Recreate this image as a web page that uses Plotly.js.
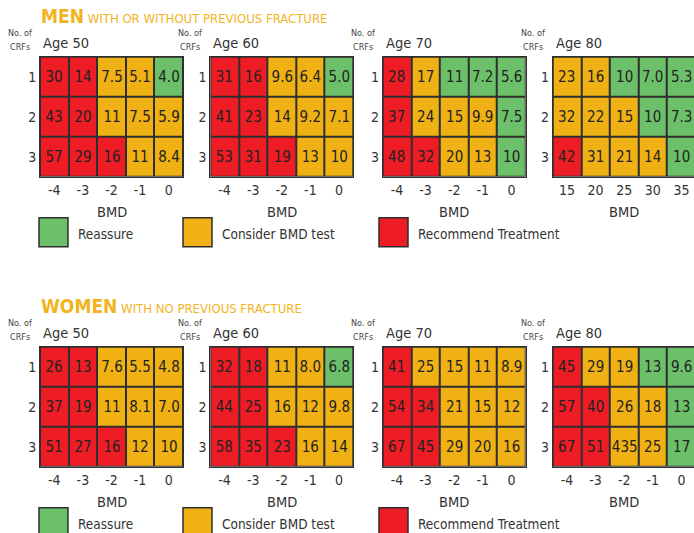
<!DOCTYPE html>
<html><head><meta charset="utf-8">
<script src="https://cdn.plot.ly/plotly-3.0.1.min.js"></script>
<style>html,body{margin:0;padding:0;overflow:hidden;background:#fff}#c{width:697px;height:533px}</style>
</head><body><div id="c"></div>
<script>
// ---- data ----
const crfRows = ["1", "2", "3"];
const bmdX = ["-4", "-3", "-2", "-1", "0"];
const bmdXMen80 = ["15", "20", "25", "30", "35"];
const ages = ["Age 50", "Age 60", "Age 70", "Age 80"];
const groupTitles = [["MEN", "WITH OR WITHOUT PREVIOUS FRACTURE"], ["WOMEN", "WITH NO PREVIOUS FRACTURE"]];
const legendLabels = ["Reassure", "Consider BMD test", "Recommend Treatment"];
// category: 0 = Reassure (green), 1 = Consider BMD test (orange), 2 = Recommend Treatment (red)
const men50 = [[30, 14, 7.5, 5.1, 4.0], [43, 20, 11, 7.5, 5.9], [57, 29, 16, 11, 8.4]];
const men50Cat = [[2, 2, 1, 1, 0], [2, 2, 1, 1, 1], [2, 2, 2, 1, 1]];
const men60 = [[31, 16, 9.6, 6.4, 5.0], [41, 23, 14, 9.2, 7.1], [53, 31, 19, 13, 10]];
const men60Cat = [[2, 2, 1, 1, 0], [2, 2, 1, 1, 1], [2, 2, 2, 1, 1]];
const men70 = [[28, 17, 11, 7.2, 5.6], [37, 24, 15, 9.9, 7.5], [48, 32, 20, 13, 10]];
const men70Cat = [[2, 1, 0, 0, 0], [2, 1, 1, 1, 0], [2, 2, 1, 1, 0]];
const men80 = [[23, 16, 10, 7.0, 5.3], [32, 22, 15, 10, 7.3], [42, 31, 21, 14, 10]];
const men80Cat = [[1, 1, 0, 0, 0], [1, 1, 1, 0, 0], [2, 1, 1, 1, 0]];
const women50 = [[26, 13, 7.6, 5.5, 4.8], [37, 19, 11, 8.1, 7.0], [51, 27, 16, 12, 10]];
const women50Cat = [[2, 2, 1, 1, 1], [2, 2, 1, 1, 1], [2, 2, 2, 1, 1]];
const women60 = [[32, 18, 11, 8.0, 6.8], [44, 25, 16, 12, 9.8], [58, 35, 23, 16, 14]];
const women60Cat = [[2, 2, 1, 1, 0], [2, 2, 1, 1, 1], [2, 2, 2, 1, 1]];
const women70 = [[41, 25, 15, 11, 8.9], [54, 34, 21, 15, 12], [67, 45, 29, 20, 16]];
const women70Cat = [[2, 1, 1, 1, 1], [2, 2, 1, 1, 1], [2, 2, 1, 1, 1]];
const women80 = [[45, 29, 19, 13, 9.6], [57, 40, 26, 18, 13], [67, 51, 435, 25, 17]];
const women80Cat = [[2, 1, 1, 0, 0], [2, 2, 1, 1, 0], [2, 2, 1, 1, 0]];

// ---- layout helpers ----
const W = 697, H = 533;
const FONT = '"Liberation Sans Narrow","DejaVu Sans Condensed","Roboto Condensed","Arial Narrow",sans-serif';
const GREEN = '#6cc06a', ORANGE = '#f0b114', RED = '#ee1d25', TITLE = '#f2b41c', DARK = '#2e2e2e', TXT = '#333333';
const colors = [GREEN, ORANGE, RED];
const colLeft = [40, 210.3, 382.7, 552.7];
const rowTop = [56.7, 346.7];
const gridW = 143, gridH = 120;
const px = x => x / W, py = y => 1 - y / H;
const fmt = v => v < 10 ? v.toFixed(1) : String(v);

const panels = [
  [men50, men50Cat, bmdX], [men60, men60Cat, bmdX], [men70, men70Cat, bmdX], [men80, men80Cat, bmdXMen80],
  [women50, women50Cat, bmdX], [women60, women60Cat, bmdX], [women70, women70Cat, bmdX], [women80, women80Cat, bmdX]
];

const colorscale = [[0, GREEN], [0.3333, GREEN], [0.3334, ORANGE], [0.6666, ORANGE], [0.6667, RED], [1, RED]];
const traces = [];
const layout = {
  width: W, height: H, margin: {l: 0, r: 0, t: 0, b: 0},
  paper_bgcolor: '#ffffff', plot_bgcolor: DARK, showlegend: false,
  font: {family: FONT, color: TXT},
  annotations: [], shapes: []
};

panels.forEach((p, i) => {
  const k = i + 1;
  const r = Math.floor(i / 4), c = i % 4;
  const left = colLeft[c], top = rowTop[r];
  traces.push({
    type: 'heatmap', z: p[1], x: p[2], y: crfRows,
    text: p[0].map(row => row.map(fmt)), texttemplate: '%{text}',
    textfont: {family: FONT, size: 15, color: '#222'},
    colorscale: colorscale, zmin: 0, zmax: 2, showscale: false,
    xgap: 2, ygap: 2, hoverinfo: 'skip',
    xaxis: 'x' + k, yaxis: 'y' + k
  });
  const sfx = k === 1 ? '' : String(k);
  layout['xaxis' + sfx] = {
    domain: [px(left), Math.min(1, px(left + gridW))], anchor: 'y' + k, type: 'category',
    showgrid: false, zeroline: false, showline: true, mirror: true, linecolor: DARK, linewidth: 1,
    ticks: '', tickfont: {family: FONT, size: 14, color: TXT}, fixedrange: true
  };
  layout['yaxis' + sfx] = {
    domain: [py(top + gridH), py(top)], anchor: 'x' + k, type: 'category', autorange: 'reversed',
    showgrid: false, zeroline: false, showline: true, mirror: true, linecolor: DARK, linewidth: 1,
    ticks: '', tickfont: {family: FONT, size: 14, color: TXT}, fixedrange: true
  };
  const A = layout.annotations;
  A.push({xref: 'paper', yref: 'paper', x: px(left + 1), y: py(top - 14), xanchor: 'left', yanchor: 'middle',
    text: ages[c], showarrow: false, font: {family: FONT, size: 14.5, color: TXT}});
  A.push({xref: 'paper', yref: 'paper', x: px(left - 20), y: py(top - 24), xanchor: 'center', yanchor: 'middle',
    text: 'No. of', showarrow: false, font: {family: FONT, size: 9, color: '#444'}});
  A.push({xref: 'paper', yref: 'paper', x: px(left - 20), y: py(top - 10), xanchor: 'center', yanchor: 'middle',
    text: 'CRFs', showarrow: false, font: {family: FONT, size: 9, color: '#444'}});
  A.push({xref: 'paper', yref: 'paper', x: px(left + gridW / 2), y: py(top + gridH + 35.7), xanchor: 'center', yanchor: 'middle',
    text: 'BMD', showarrow: false, font: {family: FONT, size: 14.5, color: TXT}});
});

// group titles and legends
const legX = [39, 183, 379];
rowTop.forEach((top, r) => {
  layout.annotations.push({xref: 'paper', yref: 'paper', x: px(39), y: py(top - 40.5), xanchor: 'left', yanchor: 'middle',
    text: '<b>' + groupTitles[r][0] + '</b><span style="font-size:13px"> ' + groupTitles[r][1] + '</span>',
    showarrow: false, font: {family: FONT, size: 19, color: TITLE}});
  legX.forEach((lx, j) => {
    const sy = top + 161;
    layout.shapes.push({type: 'rect', xref: 'paper', yref: 'paper', x0: px(lx), x1: px(lx + 29), y0: py(sy + 29), y1: py(sy),
      fillcolor: colors[j], line: {color: DARK, width: 1.5}});
    layout.annotations.push({xref: 'paper', yref: 'paper', x: px(lx + 37), y: py(sy + 16.6), xanchor: 'left', yanchor: 'middle',
      text: legendLabels[j], showarrow: false, font: {family: FONT, size: 13.5, color: TXT}});
  });
});

Plotly.newPlot('c', traces, layout, {staticPlot: true, displayModeBar: false});
</script></body></html>
